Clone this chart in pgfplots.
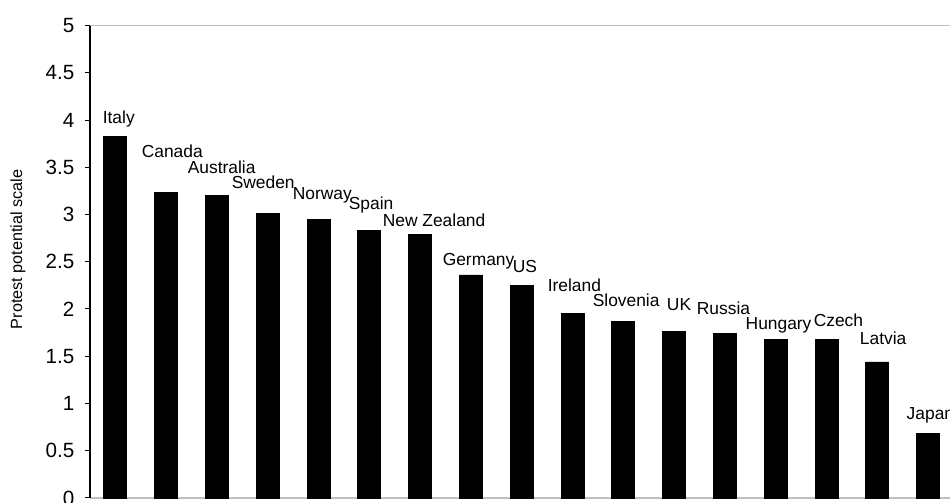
\documentclass[border=0pt]{standalone}
\usepackage{pgfplots}
\pgfplotsset{compat=1.18}
\usepackage{pgfplotstable}
\usepackage{fontspec}
\setmainfont{Liberation Sans}

\pgfplotstableread[col sep=comma]{
x,y
0,3.83
1,3.23
2,3.20
3,3.01
4,2.95
5,2.83
6,2.79
7,2.36
8,2.25
9,1.95
10,1.87
11,1.76
12,1.74
13,1.68
14,1.68
15,1.44
16,0.68
}\bars

\pgfplotstableread[col sep=comma]{
x,y,label
-0.256,3.958,Italy
0.512,3.608,Canada
1.417,3.429,Australia
2.283,3.280,Sweden
3.484,3.164,Norway
4.587,3.048,Spain
5.256,2.871,New Zealand
6.437,2.458,Germany
7.815,2.384,US
8.504,2.187,Ireland
9.390,2.024,Slovenia
10.85,1.979,UK
11.44,1.944,Russia
12.40,1.778,Hungary
13.74,1.813,Czech
14.65,1.627,Latvia
15.57,0.833,Japan
}\labels

\begin{document}
\begin{tikzpicture}
\useasboundingbox (-45pt,-2.5pt) rectangle (430pt,249pt);
\begin{axis}[
  at={(0,0)}, anchor=south west,
  scale only axis,
  width=430pt, height=236.25pt,
  xmin=-0.5, xmax=16.43,
  ymin=0, ymax=5,
  clip=false,
  axis x line*=box,
  axis y line*=left,
  x axis line style={draw=gray!50, line width=0.8pt},
  y axis line style={draw=black, line width=0.7pt},
  xtick=\empty,
  ytick={0,0.5,1,1.5,2,2.5,3,3.5,4,4.5,5},
  yticklabels={0,0.5,1,1.5,2,2.5,3,3.5,4,4.5,5},
  tick align=outside,
  major tick length=2.5pt,
  y tick style={black, line width=0.5pt},
  yticklabel style={font=\fontsize{10.3}{12}\selectfont, xshift=-1.8pt},
  /pgf/number format/assume math mode=true,
  ylabel={Protest potential scale},
  ylabel style={at={(axis description cs:-0.0837,0.526)}, anchor=center, font=\fontsize{8.1}{9}\selectfont},
]
\addplot[ybar, bar width=11.5pt, fill=black, draw=black] table[x=x,y=y] {\bars};
\addplot[only marks, mark=none, nodes near coords, point meta=explicit symbolic,
  every node near coord/.style={anchor=base west, inner sep=0pt, font=\fontsize{8.7}{10}\selectfont, black}]
  table[x=x,y=y,meta=label] {\labels};
\end{axis}
\end{tikzpicture}
\end{document}
